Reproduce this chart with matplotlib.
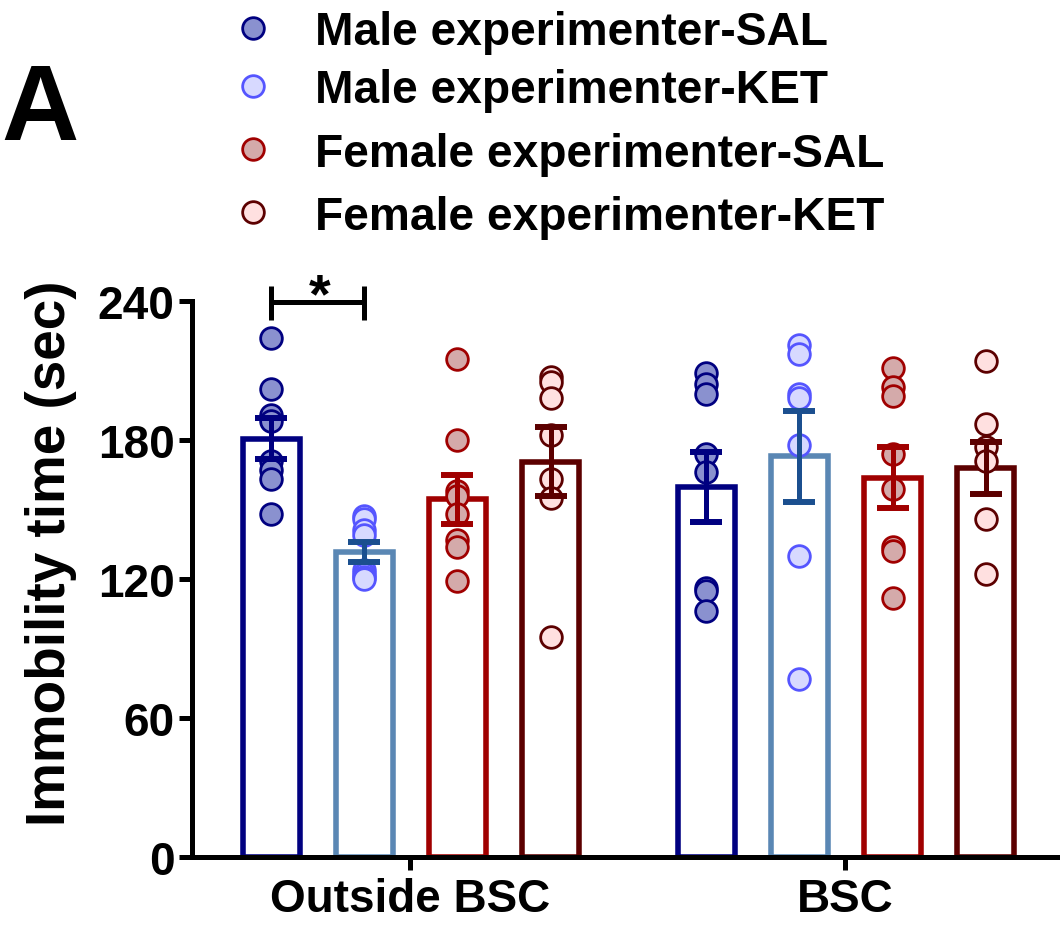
import matplotlib
matplotlib.use("Agg")
import matplotlib.pyplot as plt
from matplotlib.lines import Line2D
import numpy as np

plt.rcParams['font.family'] = ['Liberation Sans', 'DejaVu Sans']
plt.rcParams['font.weight'] = 'bold'

# ---------------- data ----------------
groups = ["Outside BSC", "BSC"]
series = ["Male experimenter-SAL", "Male experimenter-KET",
          "Female experimenter-SAL", "Female experimenter-KET"]

means_outside = [180.5, 131.6, 154.5, 170.6]
means_bsc = [159.8, 172.9, 163.8, 167.9]
sem_outside = [8.8, 4.4, 10.6, 14.9]
sem_bsc = [15.2, 19.8, 13.1, 11.2]

pts_outside = [
    [224, 202, 191, 188, 171, 167, 163, 148],
    [147, 146, 141, 139, 124, 122, 121, 120],
    [215, 180, 158, 156, 148, 137, 134, 119],
    [207, 205, 198, 182, 163, 155, 95],
]
pts_bsc = [
    [209, 204, 200, 174, 166, 116, 115, 106],
    [221, 217, 200, 198, 178, 130, 77],
    [211, 203, 199, 174, 159, 134, 132, 112],
    [214, 187, 177, 171, 146, 122],
]

yticks = [0, 60, 120, 180, 240]

# ---------------- styles ----------------
bar_edge = ["#000080", "#5A87B4", "#A00000", "#5C0000"]
err_col = ["#000080", "#1B4F8F", "#A00000", "#5C0000"]
mk_edge = ["#000080", "#5555FF", "#A00000", "#5C0000"]
mk_face = ["#8A91CF", "#D7D9FF", "#D4AAAA", "#FFE0E0"]

W, H = 1060, 929
fig = plt.figure(figsize=(W / 100, H / 100), dpi=100)
ax = fig.add_axes([191.7 / W, 1 - 858 / H, 1 - 191.7 / W, (858 - 302) / H])

offsets = [(k - 1.5) * 0.214 + 0.002 for k in range(4)]
bw = 0.131
MS, MEW = 15.6, 2.0

all_means = [means_outside, means_bsc]
all_sems = [sem_outside, sem_bsc]
all_pts = [pts_outside, pts_bsc]

for g in range(2):
    for k in range(4):
        x = g + offsets[k]
        ax.bar(x, all_means[g][k], width=bw, facecolor="white",
               edgecolor=bar_edge[k], linewidth=4, zorder=1)
        pts = all_pts[g][k]
        ax.plot([x] * len(pts), pts, linestyle="none", marker="o",
                markersize=MS, markeredgewidth=MEW,
                markerfacecolor=mk_face[k], markeredgecolor=mk_edge[k],
                zorder=2, clip_on=False)
        ax.errorbar(x, all_means[g][k], yerr=all_sems[g][k], fmt="none",
                    ecolor=err_col[k], elinewidth=3.6, capsize=11.2,
                    capthick=4.3, zorder=3)

# significance bracket
x1 = 0 + offsets[0]
x2 = 0 + offsets[1]
yb = 239.5
ax.plot([x1, x2], [yb, yb], color="black", lw=3.6, clip_on=False,
        solid_capstyle="butt", zorder=4)
for xx in (x1, x2):
    ax.plot([xx, xx], [232, 246.5], color="black", lw=3.6, clip_on=False,
            solid_capstyle="butt", zorder=4)
ax.text((x1 + x2) / 2 + 0.005, 235.6, "*", ha="center", va="baseline",
        fontsize=40, fontweight="bold", clip_on=False)

ax.set_xlim(-0.502, 1.494)
ax.set_ylim(0, 240)
ax.set_yticks(yticks)
ax.set_yticklabels([str(v) for v in yticks])
ax.set_xticks([0, 1])
ax.set_xticklabels(groups)

for s in ("top", "right"):
    ax.spines[s].set_visible(False)
for s in ("left", "bottom"):
    ax.spines[s].set_linewidth(3.6)
ax.tick_params(axis="both", direction="out", length=9.4, width=3.6,
               labelsize=33)
ax.tick_params(axis="y", pad=3)
ax.tick_params(axis="x", pad=5)
for lab in ax.get_xticklabels() + ax.get_yticklabels():
    lab.set_fontweight("bold")

fig.text(51 / W, 1 - 553 / H, "Immobility time (sec)", rotation=90,
         ha="center", va="center", fontsize=39.5, fontweight="bold")

# panel letter
fig.text(1 / W, 1 - 140 / H, "A", ha="left", va="baseline",
         fontsize=77, fontweight="bold")

# legend (manual)
mk_y = [29, 87, 150, 213]
txt_base = [45, 103, 167, 230]
for k in range(4):
    fig.add_artist(Line2D([253 / W], [1 - mk_y[k] / H], transform=fig.transFigure,
                          linestyle="none", marker="o", markersize=MS,
                          markeredgewidth=MEW, markerfacecolor=mk_face[k],
                          markeredgecolor=mk_edge[k]))
    fig.text(315 / W, 1 - txt_base[k] / H, series[k], ha="left",
             va="baseline", fontsize=33.2, fontweight="bold")

fig.savefig("out.png", dpi=100)
